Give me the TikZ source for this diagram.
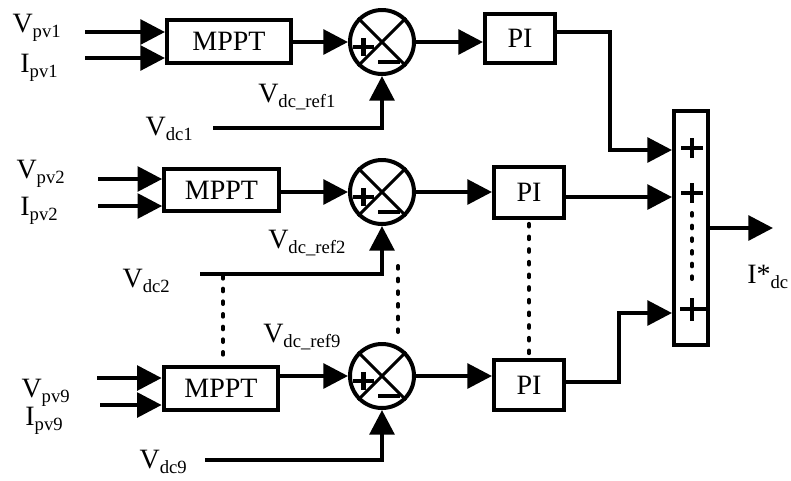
\documentclass[tikz,border=0pt]{standalone}
\usepackage{fontspec}
\setmainfont{Liberation Serif}
\usetikzlibrary{arrows.meta,calc}
% letter with a lowered, smaller index
\newcommand\vsub[2]{#1\raisebox{-4pt}{\fontsize{14}{14}\selectfont #2}}

\begin{document}
\begin{tikzpicture}[x=0.75pt,y=-0.75pt,
  wire/.style={line width=3pt},
  arr/.style={line width=3pt,-{Triangle[length=18.5pt,width=18.5pt]}},
  blk/.style={draw,line width=3pt,rectangle,inner sep=0pt,font=\fontsize{21}{25}\selectfont},
  sumc/.style={draw,line width=3pt,circle,minimum size=48pt,inner sep=0pt},
  lbl/.style={inner sep=0pt,font=\fontsize{21}{25}\selectfont},
  dots/.style={line width=3pt,line cap=round,dash pattern=on 2pt off 7.5pt},
  sgn/.style={line width=3.2pt},
]
\useasboundingbox (0,0) rectangle (791,480);

% ---- blocks ----
\node[blk,minimum width=93pt,minimum height=32pt] (mppt1) at (229,41.5) {MPPT};
\node[blk,minimum width=86pt,minimum height=31.5pt] (mppt2) at (221.5,190) {MPPT};
\node[blk,minimum width=86pt,minimum height=32pt] (mppt9) at (221,388.5) {MPPT};

\node[blk,minimum width=52.5pt,minimum height=36.75pt] (pi1) at (520,38.5) {PI};
\node[blk,minimum width=52.5pt,minimum height=38pt] (pi2) at (529,192.5) {PI};
\node[blk,minimum width=52.5pt,minimum height=37.5pt] (pi9) at (529,385) {PI};

\node[sumc] (s1) at (382,42) {};
\node[sumc] (s2) at (382,192) {};
\node[sumc] (s9) at (382,376) {};

\node[draw,line width=3pt,minimum width=25.5pt,minimum height=175.5pt,inner sep=0pt] (sum) at (691,228) {};

% ---- summing junction marks ----
\foreach \s in {s1,s2,s9}{
  \draw[line width=2.2pt] (\s.north west) -- (\s.south east);
  \draw[line width=2.2pt] (\s.north east) -- (\s.south west);
  \draw[sgn] ($(\s)+(-29,5)$) -- ($(\s)+(-8,5)$);
  \draw[sgn] ($(\s)+(-18.5,-4)$) -- ($(\s)+(-18.5,14)$);
  \draw[sgn] ($(\s)+(-4,20)$) -- ($(\s)+(18,20)$);
}

% ---- signs of the adder ----
\coordinate (p1) at (692,148);
\coordinate (p2) at (692,193);
\coordinate (p3) at (692,309);
\foreach \p in {p1,p2}{
  \draw[sgn] ($(\p)+(-11,0)$) -- ($(\p)+(11,0)$);
  \draw[sgn] ($(\p)+(0,-10)$) -- ($(\p)+(0,10)$);
}
\draw[sgn] ($(p3)+(-12,0)$) -- (sum.east |- p3);
\draw[sgn] ($(p3)+(0,-11)$) -- ($(p3)+(0,12)$);
\coordinate (sd1) at (692,213);
\coordinate (sd2) at (692,283);
\draw[dots] (sd1) -- (sd2);

% ---- input terminals ----
\coordinate (vp1) at (85,32);
\coordinate (ip1) at (85,58);
\coordinate (vd1) at (213,128);
\coordinate (vp2) at (98,179);
\coordinate (ip2) at (98,206);
\coordinate (vd2) at (200,274);
\coordinate (vp9) at (97,378);
\coordinate (ip9) at (100,405);
\coordinate (vd9) at (205,460);

\draw[arr] (vp1) -- (mppt1.west |- vp1);
\draw[arr] (ip1) -- (mppt1.west |- ip1);
\draw[arr] (vp2) -- (mppt2.west |- vp2);
\draw[arr] (ip2) -- (mppt2.west |- ip2);
\draw[arr] (vp9) -- (mppt9.west |- vp9);
\draw[arr] (ip9) -- (mppt9.west |- ip9);

% ---- MPPT to junction ----
\draw[arr] (mppt1.east |- s1) -- (s1.west);
\draw[arr] (mppt2.east |- s2) -- (s2.west);
\draw[arr] (mppt9.east |- s9) -- (s9.west);

% ---- measured dc voltage ----
\draw[arr] (vd1) -| (s1.south);
\draw[arr] (vd2) -| (s2.south);
\draw[arr] (vd9) -| (s9.south);

% ---- junction to PI ----
\draw[arr] (s1.east) -- (s1.east -| pi1.west);
\draw[arr] (s2.east) -- (s2.east -| pi2.west);
\draw[arr] (s9.east) -- (s9.east -| pi9.west);

% ---- PI to adder ----
\coordinate (t1) at (610,150);
\coordinate (t9) at (619,313);
\draw[arr] ([yshift=4.9pt]pi1.east) -| (t1) -- (sum.west |- t1);
\draw[arr] ([yshift=-3.4pt]pi2.east) -- ([yshift=-3.4pt]pi2.east -| sum.west);
\draw[arr] ([yshift=2.2pt]pi9.east) -| (t9) -- (sum.west |- t9);

\coordinate (out) at (773,228);
\draw[arr] (sum.east) -- (out);

% ---- repetition marks ----
\coordinate (j2) at (223,276);
\draw[dots] (j2) -- ([yshift=3pt]j2 |- mppt9.north);
\coordinate (d2a) at (398,266);
\coordinate (d2b) at (398,338);
\draw[dots] (d2a) -- (d2b);
\draw[dots] ([yshift=-3pt]pi2.south) -- ([yshift=3pt]pi9.north);

% ---- labels ----
\node[lbl,anchor=base east] (lvp1) at (61,32) {\vsub{V}{pv1}};
\node[lbl,anchor=base east] (lip1) at (58,72) {\vsub{I}{pv1}};
\node[lbl,anchor=base east] (lvp2) at (65,178) {\vsub{V}{pv2}};
\node[lbl,anchor=base east] (lip2) at (58,215) {\vsub{I}{pv2}};
\node[lbl,anchor=base east] (lvp9) at (70,397) {\vsub{V}{pv9}};
\node[lbl,anchor=base east] (lip9) at (63,425) {\vsub{I}{pv9}};

\node[lbl,anchor=base east] (lvd1) at (193,135) {\vsub{V}{dc1}};
\node[lbl,anchor=base east] (lvd2) at (170,287) {\vsub{V}{dc2}};
\node[lbl,anchor=base east] (lvd9) at (187,468) {\vsub{V}{dc9}};

\node[lbl,anchor=base west] (lr1) at (258,102) {\vsub{V}{dc\_ref1}};
\node[lbl,anchor=base west] (lr2) at (268,248) {\vsub{V}{dc\_ref2}};
\node[lbl,anchor=base west] (lr9) at (263,342) {\vsub{V}{dc\_ref9}};

\node[lbl,anchor=base west] (lout) at (747,283) {I*\vsub{}{dc}};
\end{tikzpicture}
\end{document}
